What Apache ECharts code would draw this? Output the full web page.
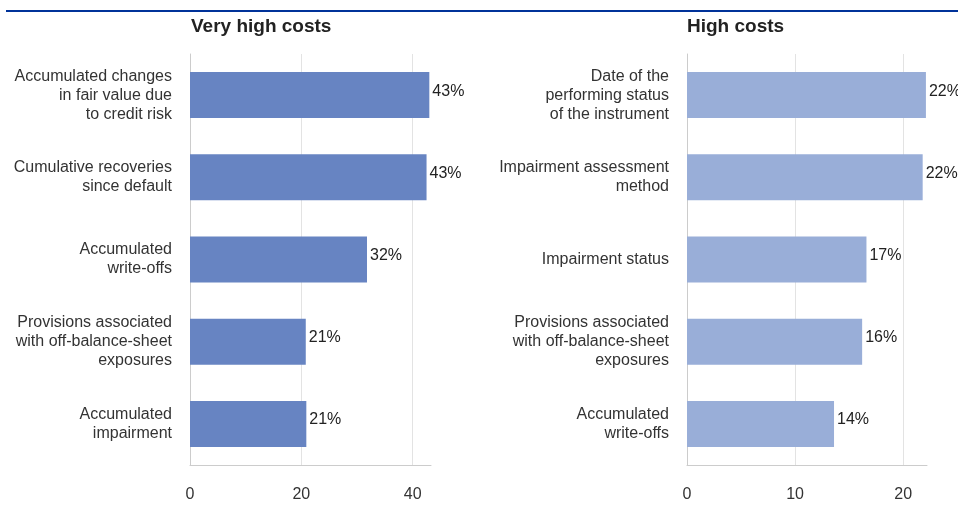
<!DOCTYPE html>
<html lang="en">
<head>
    <meta charset="UTF-8">
    <title>Costs</title>
    <style>
        body { margin: 0; overflow: hidden; background: #fff; }
        #chart { width: 958px; height: 508px; }
    </style>
</head>
<body>
    <div id="chart"></div>
    <script src="https://cdn.jsdelivr.net/npm/echarts@6/dist/echarts.min.js"></script>
    <script>
        // left panel: very high costs
        var veryHighCats = [
            'Accumulated changes\nin fair value due\nto credit risk',
            'Cumulative recoveries\nsince default',
            'Accumulated\nwrite-offs',
            'Provisions associated\nwith off-balance-sheet\nexposures',
            'Accumulated\nimpairment'
        ];
        var veryHighVals = [43.0, 42.5, 31.8, 20.8, 20.9];
        var veryHighTicks = [20, 40];

        // right panel: high costs
        var highCats = [
            'Date of the\nperforming status\nof the instrument',
            'Impairment assessment\nmethod',
            'Impairment status',
            'Provisions associated\nwith off-balance-sheet\nexposures',
            'Accumulated\nwrite-offs'
        ];
        var highVals = [22.1, 21.8, 16.6, 16.2, 13.6];
        var highTicks = [10, 20];

        var font = 'Liberation Sans, Arial, sans-serif';
        var myChart = echarts.init(document.getElementById('chart'));

        // vertical gridlines only at the tick values, kept behind the bars
        function gridSeries(idx, ticks) {
            return {
                type: 'line',
                xAxisIndex: idx,
                yAxisIndex: idx,
                data: [],
                z: 0,
                markLine: {
                    z: 0,
                    silent: true,
                    symbol: 'none',
                    label: { show: false },
                    lineStyle: { color: '#e3e3e3', type: 'solid', width: 1 },
                    data: ticks.map(function (t) { return { xAxis: t }; })
                }
            };
        }

        function xAx(idx, max, step) {
            return {
                gridIndex: idx,
                type: 'value',
                min: 0,
                max: max,
                interval: step,
                splitLine: { show: false },
                axisLine: { show: true, lineStyle: { color: '#cccccc' } },
                axisTick: { show: false },
                axisLabel: {
                    margin: 22,
                    color: '#333',
                    fontSize: 16,
                    fontFamily: font,
                    formatter: function (v) { return v % step === 0 ? v : ''; }
                }
            };
        }

        function yAx(idx, cats) {
            return {
                gridIndex: idx,
                type: 'category',
                inverse: true,
                data: cats,
                axisLine: { show: true, lineStyle: { color: '#cccccc' } },
                axisTick: { show: false },
                axisLabel: {
                    margin: 18,
                    color: '#333',
                    fontSize: 16,
                    lineHeight: 19,
                    fontFamily: font
                }
            };
        }

        function bars(idx, vals, color) {
            return {
                type: 'bar',
                xAxisIndex: idx,
                yAxisIndex: idx,
                data: vals,
                barWidth: 46,
                z: 3,
                itemStyle: { color: color },
                label: {
                    show: true,
                    position: 'right',
                    distance: 3,
                    offset: [0, -4],
                    color: '#222',
                    fontSize: 16,
                    fontFamily: font,
                    formatter: function (p) { return Math.round(p.value) + '%'; }
                }
            };
        }

        var option = {
            animation: false,
            title: [
                { text: 'Very high costs', left: 186, top: 12,
                  textStyle: { fontSize: 19, fontWeight: 'bold', color: '#222', fontFamily: font } },
                { text: 'High costs', left: 682, top: 12,
                  textStyle: { fontSize: 19, fontWeight: 'bold', color: '#222', fontFamily: font } }
            ],
            graphic: [{
                type: 'line',
                shape: { x1: 6, y1: 11, x2: 958, y2: 11 },
                style: { stroke: '#003299', lineWidth: 2 }
            }],
            grid: [
                { left: 190, width: 241, top: 54, height: 411 },
                { left: 687, width: 240, top: 54, height: 411 }
            ],
            xAxis: [xAx(0, 43.3, 20), xAx(1, 22.2, 10)],
            yAxis: [yAx(0, veryHighCats), yAx(1, highCats)],
            series: [
                gridSeries(0, veryHighTicks),
                gridSeries(1, highTicks),
                bars(0, veryHighVals, '#6784c2'),
                bars(1, highVals, '#99aed8')
            ]
        };

        myChart.setOption(option);
    </script>
</body>
</html>
